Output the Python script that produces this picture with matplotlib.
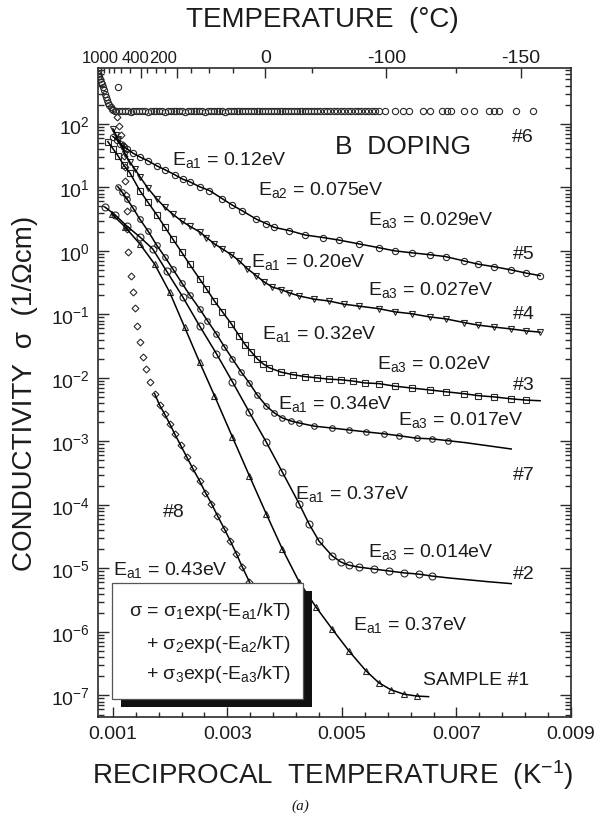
import matplotlib.pyplot as plt
import numpy as np
from matplotlib.patches import Rectangle
from matplotlib.ticker import (FixedLocator, MultipleLocator, LogLocator,
                               NullFormatter, FormatStrFormatter)

plt.rcParams["font.family"] = ["Liberation Sans", "DejaVu Sans"]
plt.rcParams["mathtext.default"] = "regular"
plt.rcParams["text.color"] = "#1c1c1c"

# points: (1000/T in 1/K, log10 sigma in 1/(ohm cm))
s6 = [(0.739, 2.79), (0.757, 2.76), (0.774, 2.71), (0.791, 2.66), (0.808, 2.62),
      (0.826, 2.58), (0.843, 2.53), (0.861, 2.47), (0.878, 2.42), (0.896, 2.37),
      (0.913, 2.33), (0.940, 2.29), (0.965, 2.26), (0.983, 2.24), (1.010, 2.22),
      (1.035, 2.21), (1.060, 2.21), (1.087, 2.58), (1.11, 2.20), (1.16, 2.21),
      (1.21, 2.20), (1.26, 2.20), (1.31, 2.19), (1.36, 2.20), (1.41, 2.20),
      (1.46, 2.21), (1.51, 2.20), (1.56, 2.20), (1.61, 2.19), (1.66, 2.20),
      (1.71, 2.20), (1.76, 2.21), (1.81, 2.20), (1.86, 2.20), (1.91, 2.19),
      (1.96, 2.20), (2.01, 2.20), (2.06, 2.20), (2.11, 2.21), (2.16, 2.20),
      (2.21, 2.20), (2.26, 2.19), (2.31, 2.20), (2.36, 2.20), (2.41, 2.21),
      (2.46, 2.20), (2.51, 2.20), (2.56, 2.20), (2.61, 2.19), (2.66, 2.20),
      (2.71, 2.20), (2.76, 2.21), (2.81, 2.20), (2.86, 2.20), (2.91, 2.20),
      (2.96, 2.19), (3.01, 2.20), (3.06, 2.21), (3.11, 2.21), (3.16, 2.20),
      (3.21, 2.21), (3.26, 2.21), (3.31, 2.20), (3.36, 2.21), (3.41, 2.21),
      (3.46, 2.20), (3.51, 2.21), (3.56, 2.21), (3.61, 2.21), (3.66, 2.20),
      (3.71, 2.21), (3.76, 2.21), (3.81, 2.21), (3.86, 2.20), (3.91, 2.21),
      (3.96, 2.21), (4.01, 2.20), (4.06, 2.21), (4.11, 2.21), (4.16, 2.21),
      (4.21, 2.20), (4.26, 2.21), (4.31, 2.21), (4.36, 2.20), (4.41, 2.21),
      (4.46, 2.21), (4.51, 2.20), (4.56, 2.21), (4.62, 2.21), (4.68, 2.20),
      (4.74, 2.21), (4.80, 2.21), (4.86, 2.20), (4.92, 2.21), (4.98, 2.21),
      (5.04, 2.20), (5.10, 2.21), (5.16, 2.21), (5.22, 2.20), (5.28, 2.21),
      (5.34, 2.21), (5.40, 2.20), (5.46, 2.21), (5.52, 2.21), (5.58, 2.20),
      (5.64, 2.21), (5.75, 2.21), (5.92, 2.20), (6.06, 2.21), (6.18, 2.21),
      (6.41, 2.20), (6.53, 2.21), (6.74, 2.21), (6.83, 2.20), (6.91, 2.21),
      (7.14, 2.21), (7.31, 2.20), (7.57, 2.21), (7.66, 2.21), (7.75, 2.20),
      (8.04, 2.21), (8.34, 2.21)]

s5 = [(1.000, 1.80), (1.070, 1.75), (1.122, 1.69), (1.191, 1.64), (1.243, 1.61),
      (1.348, 1.54), (1.470, 1.48), (1.609, 1.42), (1.765, 1.34), (1.904, 1.28),
      (2.078, 1.20), (2.217, 1.13), (2.339, 1.09), (2.513, 1.01), (2.687, 0.95),
      (2.913, 0.82), (3.087, 0.72), (3.261, 0.63), (3.504, 0.50), (3.678, 0.43),
      (3.817, 0.37), (4.078, 0.32), (4.357, 0.25), (4.670, 0.21), (4.948, 0.17),
      (5.296, 0.11), (5.643, 0.05), (5.922, 0.00), (6.217, -0.03), (6.530, -0.06),
      (6.809, -0.09), (7.139, -0.16), (7.383, -0.21), (7.661, -0.25),
      (7.957, -0.30), (8.217, -0.35), (8.461, -0.39)]

s4 = [(1.000, 1.92), (1.052, 1.83), (1.087, 1.76), (1.157, 1.65), (1.209, 1.53),
      (1.296, 1.40), (1.383, 1.29), (1.470, 1.17), (1.609, 0.99), (1.765, 0.82),
      (1.904, 0.69), (2.043, 0.58), (2.200, 0.47), (2.339, 0.39), (2.513, 0.30),
      (2.635, 0.21), (2.774, 0.11), (2.913, 0.03), (3.070, -0.06), (3.209, -0.16),
      (3.348, -0.28), (3.504, -0.39), (3.643, -0.49), (3.783, -0.57),
      (3.939, -0.61), (4.078, -0.66), (4.252, -0.71), (4.513, -0.76),
      (4.774, -0.79), (5.035, -0.84), (5.296, -0.87), (5.643, -0.91),
      (5.922, -0.96), (6.217, -0.99), (6.530, -1.04), (6.809, -1.07),
      (7.139, -1.13), (7.383, -1.17), (7.661, -1.20), (7.957, -1.23),
      (8.217, -1.26), (8.461, -1.28)]

s3 = [(0.913, 1.72), (1.000, 1.61), (1.087, 1.50), (1.191, 1.35), (1.296, 1.23),
      (1.470, 0.95), (1.609, 0.77), (1.765, 0.57), (1.904, 0.38), (2.043, 0.19),
      (2.200, -0.02), (2.339, -0.21), (2.513, -0.44), (2.635, -0.60),
      (2.774, -0.79), (2.913, -0.96), (3.070, -1.15), (3.209, -1.34),
      (3.313, -1.48), (3.417, -1.59), (3.522, -1.70), (3.626, -1.78),
      (3.730, -1.84), (3.939, -1.91), (4.148, -1.95), (4.357, -1.98),
      (4.565, -2.00), (4.774, -2.02), (4.983, -2.03), (5.191, -2.05),
      (5.400, -2.08), (5.643, -2.09), (5.922, -2.13), (6.217, -2.16),
      (6.530, -2.19), (6.826, -2.22), (7.139, -2.25), (7.383, -2.28),
      (7.661, -2.30), (7.957, -2.33), (8.217, -2.35), (8.461, -2.36)]

s7 = [(1.087, 1.01), (1.157, 0.93), (1.243, 0.82), (1.348, 0.68), (1.470, 0.50),
      (1.609, 0.32), (1.765, 0.09), (1.904, -0.09), (2.043, -0.28), (2.200, -0.50),
      (2.339, -0.69), (2.513, -0.91), (2.652, -1.10), (2.809, -1.31),
      (2.948, -1.51), (3.087, -1.70), (3.243, -1.91), (3.383, -2.08),
      (3.522, -2.27), (3.678, -2.44), (3.817, -2.55), (3.957, -2.63),
      (4.113, -2.68), (4.252, -2.71), (4.513, -2.76), (4.826, -2.79),
      (5.122, -2.82), (5.417, -2.85), (5.730, -2.88), (5.991, -2.91),
      (6.304, -2.95), (6.565, -2.96), (6.861, -2.99), (7.157, -3.02),
      (7.557, -3.07), (7.957, -3.12)]

s2 = [(0.861, 0.69), (1.035, 0.57), (1.243, 0.39), (1.470, 0.22), (1.696, 0.03),
      (1.939, -0.32), (2.217, -0.72), (2.513, -1.18), (2.809, -1.62),
      (3.087, -2.06), (3.383, -2.54), (3.678, -3.01), (3.957, -3.48),
      (4.252, -3.98), (4.426, -4.30), (4.600, -4.57), (4.826, -4.80),
      (4.983, -4.90), (5.122, -4.95), (5.296, -4.98), (5.557, -5.01),
      (5.817, -5.04), (6.078, -5.07), (6.339, -5.09), (6.565, -5.12),
      (6.861, -5.15), (7.209, -5.18), (7.557, -5.21), (7.957, -5.24)]

s1 = [(0.983, 0.58), (1.209, 0.38), (1.470, 0.11), (1.730, -0.21), (1.991, -0.65),
      (2.252, -1.20), (2.513, -1.75), (2.774, -2.28), (3.087, -2.93),
      (3.383, -3.54), (3.678, -4.14), (3.957, -4.69), (4.252, -5.21),
      (4.548, -5.61), (4.826, -5.95), (5.122, -6.30), (5.417, -6.61),
      (5.643, -6.80), (5.852, -6.91), (6.078, -6.98), (6.304, -7.01),
      (6.513, -7.02)]

s8 = [(1.070, 2.11), (1.104, 1.97), (1.139, 1.83), (1.174, 1.67), (1.191, 1.50),
      (1.209, 1.32), (1.209, 1.10), (1.226, 0.88), (1.243, 0.63), (1.243, 0.35),
      (1.261, -0.02), (1.313, -0.39), (1.348, -0.65), (1.383, -0.90),
      (1.417, -1.18), (1.470, -1.43), (1.522, -1.67), (1.574, -1.86),
      (1.643, -2.06), (1.730, -2.25), (1.817, -2.43), (1.904, -2.57),
      (1.991, -2.72), (2.078, -2.88), (2.183, -3.06), (2.287, -3.24),
      (2.391, -3.42), (2.513, -3.62), (2.617, -3.81), (2.722, -3.98),
      (2.826, -4.17), (2.948, -4.38), (3.052, -4.57), (3.157, -4.77),
      (3.261, -4.98), (3.383, -5.21), (3.591, -5.64), (3.817, -6.11)]

bottom_ticks = [0.001, 0.003, 0.005, 0.007, 0.009]
top_temps = [1000, 400, 200, 0, -100, -150]
top_minor_temps = [900, 800, 700, 600, 500, 350, 300, 250, 150, 100, 50, -50, -130]


def xy(pts):
    a = np.array(pts)
    return a[:, 0] * 1e-3, 10 ** a[:, 1]


fig = plt.figure(figsize=(5.96, 8.2), dpi=100)
ax = fig.add_axes([0.1644, 0.1244, 0.7936, 0.7915])

ink = "#2a2a2a"
# (points, marker, size, draw line, line start, last measured point)
series = [
    (s6, "o", 4.5, False, 0, None),
    (s5, "o", 4.5, True, 0, None),
    (s4, "v", 4.5, True, 0, None),
    (s3, "s", 4.0, True, 0, -1),
    (s7, "o", 4.0, True, 0, -3),
    (s2, "o", 5.0, True, 0, -4),
    (s1, "^", 4.0, True, 0, -1),
    (s8, "D", 3.5, True, 19, None),
]
for pts, mk, ms, line, i0, i1 in series:
    x, y = xy(pts)
    ax.plot(x[:i1], y[:i1], ls="none", marker=mk, ms=ms, mfc="none", mec=ink,
            mew=0.8, zorder=3)
    if line:
        ax.plot(x[i0:], y[i0:], color="k", lw=1.1, zorder=4)

ax.set_yscale("log")
ax.set_xlim(0.00074, 0.009)
ax.set_ylim(10 ** -7.34, 10 ** 2.88)

ax.xaxis.set_major_locator(FixedLocator(bottom_ticks))
ax.xaxis.set_major_formatter(FormatStrFormatter("%.3f"))
ax.xaxis.set_minor_locator(MultipleLocator(0.0004, offset=0.0002))
ax.yaxis.set_major_locator(LogLocator(base=10, numticks=20))
ax.yaxis.set_minor_locator(LogLocator(base=10, subs=np.arange(2, 10), numticks=20))
ax.yaxis.set_minor_formatter(NullFormatter())
ax.tick_params(which="both", direction="in", right=True, top=False,
               color=ink, width=1.0, labelsize=14, labelcolor="#1c1c1c")
ax.tick_params(axis="x", which="major", length=7, pad=6)
ax.tick_params(axis="x", which="minor", length=3.5)
ax.tick_params(axis="y", which="major", length=8, pad=6)
ax.tick_params(axis="y", which="minor", length=4)
for sp in ax.spines.values():
    sp.set_color(ink)
    sp.set_linewidth(1.2)

# top temperature axis
top = ax.twiny()
top.set_xlim(ax.get_xlim())
top.yaxis.set_visible(False)
top.xaxis.set_major_locator(FixedLocator([1 / (t + 273.15) for t in top_temps]))
top.xaxis.set_minor_locator(FixedLocator([1 / (t + 273.15) for t in top_minor_temps]))
top.xaxis.set_major_formatter(NullFormatter())
top.tick_params(which="both", direction="in", color=ink, width=1.0)
top.tick_params(which="major", length=7)
top.tick_params(which="minor", length=3.5)
for sp in top.spines.values():
    sp.set_visible(False)
top_shift = [0, -4, -10, 0, 0, 0]
top_size = [12, 12, 12, 14, 14, 14]
for t, dx, fs in zip(top_temps, top_shift, top_size):
    top.annotate(str(t), xy=(1 / (t + 273.15), 1), xycoords=("data", "axes fraction"),
                 xytext=(dx, 4.5), textcoords="offset points", ha="center",
                 va="baseline", fontsize=fs)

# curve labels
labels = [
    ("E$_{a1}$ = 0.12eV", 0.156, 0.852),
    ("E$_{a2}$ = 0.075eV", 0.338, 0.806),
    ("E$_{a3}$ = 0.029eV", 0.571, 0.760),
    ("#5", 0.877, 0.707),
    ("E$_{a1}$ = 0.20eV", 0.324, 0.695),
    ("E$_{a3}$ = 0.027eV", 0.571, 0.652),
    ("#4", 0.877, 0.615),
    ("E$_{a1}$ = 0.32eV", 0.347, 0.584),
    ("E$_{a3}$ = 0.02eV", 0.590, 0.538),
    ("#3", 0.877, 0.505),
    ("E$_{a1}$ = 0.34eV", 0.381, 0.476),
    ("E$_{a3}$ = 0.017eV", 0.634, 0.451),
    ("#7", 0.877, 0.367),
    ("E$_{a1}$ = 0.37eV", 0.416, 0.337),
    ("E$_{a3}$ = 0.014eV", 0.571, 0.248),
    ("#2", 0.877, 0.214),
    ("E$_{a1}$ = 0.37eV", 0.539, 0.136),
    ("SAMPLE #1", 0.687, 0.051),
    ("#8", 0.137, 0.310),
    ("E$_{a1}$ = 0.43eV", 0.032, 0.220),
    ("#6", 0.875, 0.888),
]
for s, x, y in labels:
    ax.text(x, y, s, transform=ax.transAxes, fontsize=14, ha="left",
            va="baseline", zorder=6)
ax.text(0.501, 0.869, "B  DOPING", transform=ax.transAxes, fontsize=19,
        ha="left", va="baseline", zorder=6)

# equation box with shadow
ax.add_patch(Rectangle((0.0486, 0.0154), 0.4038, 0.1788, transform=ax.transAxes,
                       fc="#111111", ec="none", zorder=8))
ax.add_patch(Rectangle((0.0296, 0.0277), 0.4038, 0.1788, transform=ax.transAxes,
                       fc="white", ec="#555555", lw=0.9, zorder=9))
eq = ["σ = σ$_1$exp(-E$_{a1}$/kT)",
      "+ σ$_2$exp(-E$_{a2}$/kT)",
      "+ σ$_3$exp(-E$_{a3}$/kT)"]
for s, y in zip(eq, [0.157, 0.106, 0.060]):
    ax.text(0.408, y, s, transform=ax.transAxes, fontsize=14, ha="right",
            va="baseline", zorder=10)

fig.text(322 / 596, 1 - 20 / 820, "TEMPERATURE  (°C)", fontsize=20,
         ha="center", va="center")
fig.text(333 / 596, 1 - 775 / 820, "RECIPROCAL  TEMPERATURE  (K$^{-1}$)",
         fontsize=20, ha="center", va="center")
fig.text(25 / 596, 1 - 393 / 820, "CONDUCTIVITY  σ  (1/Ωcm)", fontsize=20,
         rotation=90, ha="center", va="center")
fig.text(300 / 596, 1 - 806 / 820, "(a)", fontsize=11, ha="center", va="center",
         family="Liberation Serif", style="italic")

fig.savefig("out.png", dpi=100)
